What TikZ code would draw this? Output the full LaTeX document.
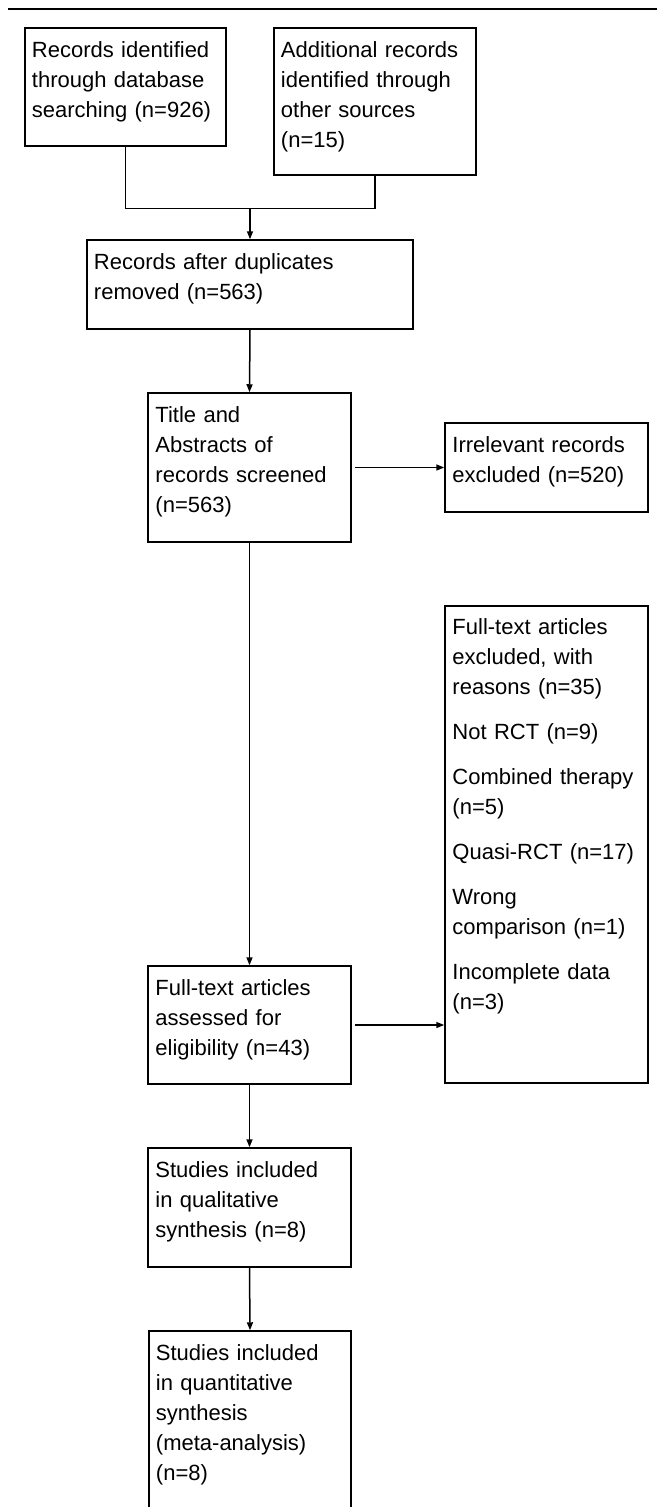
\documentclass[tikz,border=0pt]{standalone}
\usepackage{fontspec}
\setmainfont{Liberation Sans}
\usetikzlibrary{shapes.misc,arrows.meta,calc}
\begin{document}
\begin{tikzpicture}[x=1pt,y=-1pt,
  box/.style={draw, line width=1.5pt, chamfered rectangle,
    chamfered rectangle xsep=3.5pt, chamfered rectangle ysep=3.5pt,
    inner sep=0pt, anchor=center},
  txt/.style={anchor=base west, inner sep=0pt, text width=330pt, align=left,
    font=\fontsize{22}{30}\selectfont},
  link/.style={line width=1.5pt},
  arr/.style={link, -{Triangle[length=8pt,width=6pt]}}]
\useasboundingbox (0,0) rectangle (657,1507);
\fill[white] (0,0) rectangle (657,1507);
% top rule
\draw[line width=2.4pt] (8,9) -- (657,9);
% boxes
\node[box, minimum width=201pt, minimum height=118pt] (b1) at (125.5,87) {};
\node[box, minimum width=202pt, minimum height=147pt] (b2) at (375,101.5) {};
\node[box, minimum width=326pt, minimum height=89pt]  (b3) at (250,284.5) {};
\node[box, minimum width=203pt, minimum height=149pt] (b4) at (249.5,467.5) {};
\node[box, minimum width=203pt, minimum height=89pt]  (irr) at (546.5,467.5) {};
\node[box, minimum width=203pt, minimum height=477pt] (exc) at (546.5,844.5) {};
\node[box, minimum width=203pt, minimum height=118pt] (b5) at (249.5,1025) {};
\node[box, minimum width=203pt, minimum height=119pt] (b6) at (249.5,1207.5) {};
\node[box, minimum width=202pt, minimum height=177pt] (b7) at (250,1419.5) {};
% texts
\node[txt] (t1) at ($(b1.west |- b1.north)+(7.5,30)$) {Records identified\\through database\\searching (n=926)};
\node[txt] (t2) at ($(b2.west |- b2.north)+(7.5,30)$) {Additional records\\identified through\\other sources\\(n=15)};
\node[txt] (t3) at ($(b3.west |- b3.north)+(7.5,30)$) {Records after duplicates\\removed (n=563)};
\node[txt] (t4) at ($(b4.west |- b4.north)+(8,30)$) {Title and\\Abstracts of\\records screened\\(n=563)};
\node[txt] (tirr) at ($(irr.west |- irr.north)+(8,30)$) {Irrelevant records\\excluded (n=520)};
\node[txt] (texc) at ($(exc.west |- exc.north)+(8,29)$) {Full-text articles\\excluded, with\\reasons (n=35)\\[15pt]Not RCT (n=9)\\[15pt]Combined therapy\\(n=5)\\[15pt]Quasi-RCT (n=17)\\[15pt]Wrong\\comparison (n=1)\\[15pt]Incomplete data\\(n=3)};
\node[txt] (t5) at ($(b5.west |- b5.north)+(8,30)$) {Full-text articles\\assessed for\\eligibility (n=43)};
\node[txt] (t6) at ($(b6.west |- b6.north)+(8,30)$) {Studies included\\in qualitative\\synthesis (n=8)};
\node[txt] (t7) at ($(b7.west |- b7.north)+(7.5,30)$) {Studies included\\in quantitative\\synthesis\\(meta-analysis)\\(n=8)};
% connectors
\coordinate (m) at ($(b3.north)+(0,-31)$);
\draw[link] (b1.south) |- (m);
\draw[link] (b2.south) |- (m);
\draw[arr] (m) -- (b3.north);
\draw[arr] (b3.south) -- (b4.north);
\draw[arr] ([xshift=3pt]b4.east) -- (irr.west);
\draw[arr] (b4.south) -- (b5.north);
\draw[arr] ([xshift=3pt]b5.east) -- (b5.east -| exc.west);
\draw[arr] (b5.south) -- (b6.north);
\draw[arr] (b6.south) -- (b7.north);
\end{tikzpicture}
\end{document}
